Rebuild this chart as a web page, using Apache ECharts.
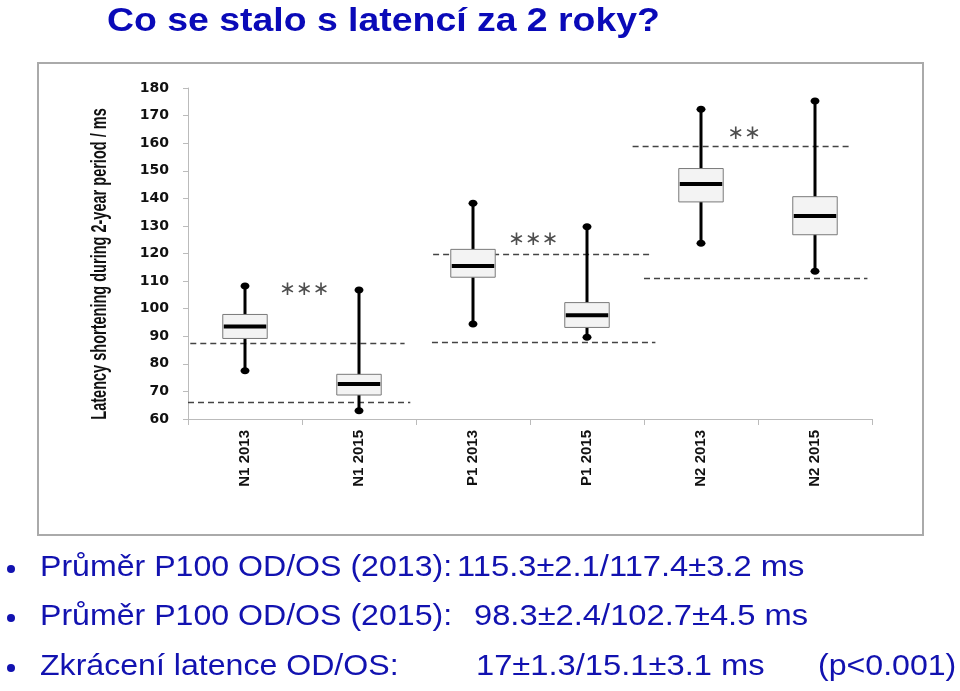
<!DOCTYPE html>
<html>
<head>
<meta charset="utf-8">
<script src="https://cdn.jsdelivr.net/npm/echarts@6/dist/echarts.min.js"></script>
<style>html,body{margin:0;padding:0;background:#fff;}#c{width:960px;height:691px;}</style>
</head>
<body>
<div id="c"></div>
<script>
const categories = ['N1 2013', 'N1 2015', 'P1 2013', 'P1 2015', 'N2 2013', 'N2 2015'];
const whiskerMin = [77.5, 63.0, 94.4, 89.6, 123.7, 113.6];
const q1 = [89.2, 68.7, 111.4, 93.2, 138.7, 126.8];
const medians = [93.5, 72.7, 115.5, 97.6, 145.2, 133.6];
const q3 = [97.9, 76.2, 121.5, 102.2, 150.8, 140.6];
const whiskerMax = [108.2, 106.8, 138.2, 129.7, 172.3, 175.3];
const yTicks = [60, 180, 10];

const refStart = [0.02, 0.0, 2.15, 2.14, 3.9, 4.0];
const refEnd = [1.9, 1.95, 4.05, 4.1, 5.82, 5.96];
const refValue = [87.4, 65.9, 119.8, 88.0, 159.0, 111.1];

const sigLabels = ['∗∗∗', '∗∗∗', '∗∗'];
const sigX = [1.02, 3.03, 4.88];
const sigY = [107, 125, 163.3];

const titleText = 'Co se stalo s latencí za 2 roky?';
const yAxisTitle = 'Latency shortening during 2-year period / ms';
const bullets = [
  ['Průměr P100 OD/OS (2013):', '115.3±2.1/117.4±3.2 ms', ''],
  ['Průměr P100 OD/OS (2015):', '98.3±2.4/102.7±4.5 ms', ''],
  ['Zkrácení latence OD/OS:', '17±1.3/15.1±3.1 ms', '(p<0.001)']
];

const chart = echarts.init(document.getElementById('c'), null, {renderer: 'canvas'});

const boxData = categories.map((c, i) => [i, whiskerMin[i], q1[i], medians[i], q3[i], whiskerMax[i]]);
const refData = refValue.map((v, i) => ({coords: [[refStart[i], v], [refEnd[i], v]]}));
const sigData = sigLabels.map((s, i) => ({value: [sigX[i], sigY[i]], name: s}));

const blue = '#1212b0';
const bulletX = [40, 457, 818];
const bulletY = [568, 617, 667];
const bulletSecondX = [457, 474, 476];
const bulletFont = '30px "Liberation Sans", Arial, sans-serif';
const graphics = [
  {type: 'rect', z: -10, shape: {x: 38, y: 63, width: 885, height: 472}, style: {fill: '#fff', stroke: '#aaaaaa', lineWidth: 2}},
  {type: 'text', x: 107, y: 22, scaleX: 1.1, style: {text: titleText, font: 'bold 34px "Liberation Sans", Arial, sans-serif', fill: '#0a0ab8', textVerticalAlign: 'middle'}},
  {type: 'text', x: 100, y: 264, rotation: Math.PI / 2, scaleX: 0.66, style: {text: yAxisTitle, font: 'bold 22px "Liberation Sans", sans-serif', fill: '#111', textAlign: 'center', textVerticalAlign: 'middle'}}
];
bullets.forEach((b, i) => {
  graphics.push({type: 'circle', shape: {cx: 11, cy: bulletY[i] + 1, r: 4}, style: {fill: blue}});
  graphics.push({type: 'text', x: bulletX[0], y: bulletY[i], scaleX: 1.07, style: {text: b[0], font: bulletFont, fill: blue, textVerticalAlign: 'middle'}});
  graphics.push({type: 'text', x: bulletSecondX[i], y: bulletY[i], scaleX: 1.09, style: {text: b[1], font: bulletFont, fill: blue, textVerticalAlign: 'middle'}});
  if (b[2]) graphics.push({type: 'text', x: bulletX[2], y: bulletY[i], scaleX: 1.07, style: {text: b[2], font: bulletFont, fill: blue, textVerticalAlign: 'middle'}});
});

const option = {
  backgroundColor: '#fff',
  animation: false,
  graphic: graphics,
  grid: {left: 188, top: 88, width: 684, height: 331, containLabel: false},
  xAxis: [
    {
      type: 'category', data: categories, boundaryGap: true,
      axisLine: {show: true, lineStyle: {color: '#bbbbbb', width: 1}},
      axisTick: {show: true, interval: 0, length: 6, lineStyle: {color: '#bbbbbb'}},
      axisLabel: {interval: 0, rotate: 90, margin: 11, color: '#111', fontWeight: 'bold', fontSize: 15, fontFamily: '"Liberation Sans", sans-serif'},
      splitLine: {show: false}
    },
    {type: 'value', min: 0, max: 6, show: false}
  ],
  yAxis: {
    type: 'value', min: yTicks[0], max: yTicks[1], interval: yTicks[2],
    axisLine: {show: true, lineStyle: {color: '#bbbbbb', width: 1}},
    axisTick: {show: true, length: 5, lineStyle: {color: '#bbbbbb'}},
    axisLabel: {color: '#111', fontWeight: 'bold', fontSize: 14, margin: 19, fontFamily: '"DejaVu Sans", sans-serif'},
    splitLine: {show: false}
  },
  series: [
    {
      type: 'lines', coordinateSystem: 'cartesian2d', xAxisIndex: 1, yAxisIndex: 0,
      data: refData, silent: true,
      lineStyle: {color: '#444', width: 1.3, type: [6, 4], opacity: 1}, z: 1
    },
    {
      type: 'custom', xAxisIndex: 0, yAxisIndex: 0, data: boxData, z: 3,
      renderItem: function (params, api) {
        const x = api.value(0);
        const pMin = api.coord([x, api.value(1)]);
        const pQ1 = api.coord([x, api.value(2)]);
        const pMed = api.coord([x, api.value(3)]);
        const pQ3 = api.coord([x, api.value(4)]);
        const pMax = api.coord([x, api.value(5)]);
        const w = api.size([1, 0])[0] * 0.39;
        const cx = pMed[0];
        return {
          type: 'group',
          children: [
            {type: 'line', shape: {x1: cx, y1: pMax[1], x2: cx, y2: pMin[1]}, style: {stroke: '#000', lineWidth: 3}},
            {type: 'rect', shape: {x: cx - w / 2, y: pQ3[1], width: w, height: pQ1[1] - pQ3[1]}, style: {fill: '#f3f3f3', stroke: '#7a7a7a', lineWidth: 1}},
            {type: 'line', shape: {x1: cx - w / 2 + 1, y1: pMed[1], x2: cx + w / 2 - 1, y2: pMed[1]}, style: {stroke: '#000', lineWidth: 4}},
            {type: 'ellipse', shape: {cx: cx, cy: pMax[1], rx: 4.5, ry: 3.5}, style: {fill: '#000'}},
            {type: 'ellipse', shape: {cx: cx, cy: pMin[1], rx: 4.5, ry: 3.5}, style: {fill: '#000'}}
          ]
        };
      }
    },
    {
      type: 'scatter', xAxisIndex: 1, yAxisIndex: 0, data: sigData, symbolSize: 0, silent: true,
      label: {show: true, position: 'inside', formatter: p => p.name, color: '#222', fontSize: 20, fontFamily: '"DejaVu Sans", sans-serif'}
    }
  ]
};
chart.setOption(option);
</script>
</body>
</html>
